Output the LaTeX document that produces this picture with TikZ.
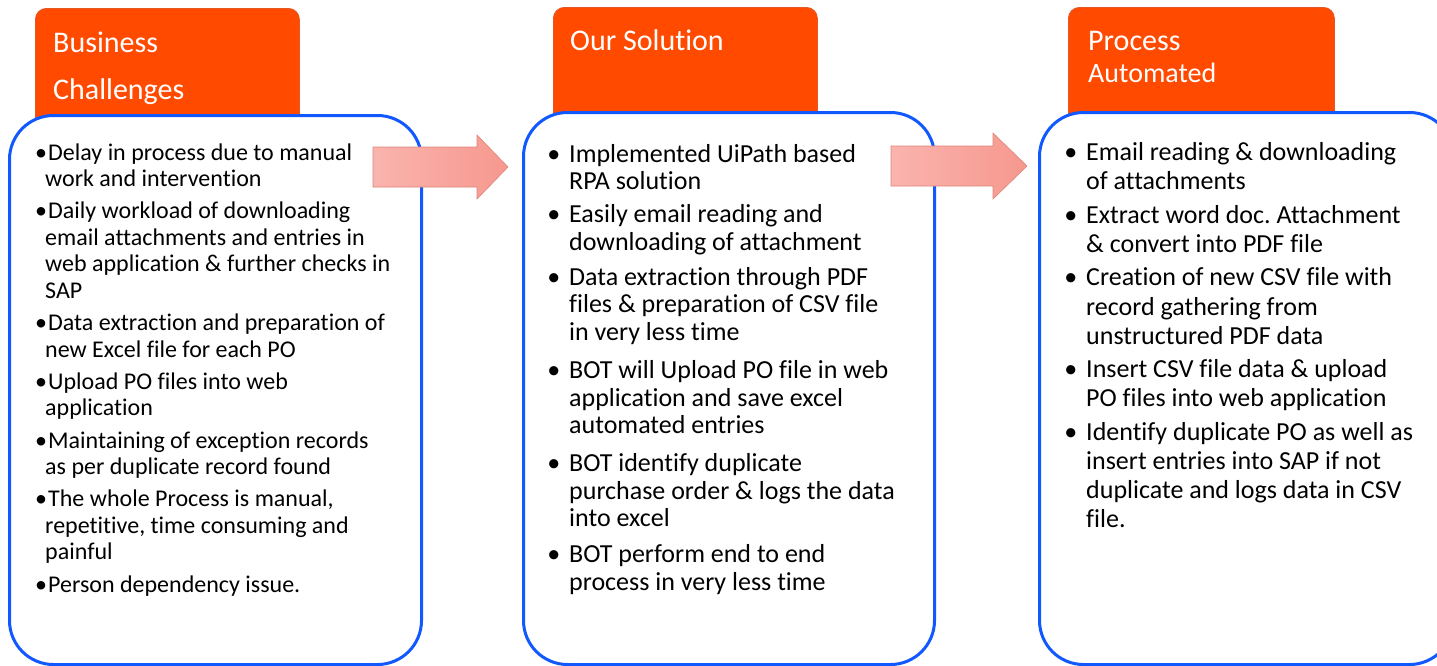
\documentclass[tikz,border=0pt]{standalone}
\usepackage{fontspec}
\setmainfont{Carlito}[Ligatures=NoCommon]
\frenchspacing
\definecolor{tabfill}{RGB}{255,74,0}
\definecolor{tabedge}{RGB}{228,88,40}
\definecolor{boxblue}{RGB}{18,88,255}
\definecolor{arrL}{RGB}{250,180,174}
\definecolor{arrR}{RGB}{246,152,142}
\definecolor{arrEdge}{RGB}{222,132,122}
\newcommand\blt[1]{\leavevmode\llap{\textbullet\hspace{#1}}}
\tikzset{
  tabbox/.style={draw=tabedge, line width=0.8pt, fill=tabfill, rounded corners=11pt,
    anchor=north west, inner sep=0, minimum width=264pt, minimum height=130pt},
  panel/.style={draw=boxblue, line width=3pt, fill=white, rounded corners=44pt,
    anchor=north west, inner sep=0},
  hdr/.style={inner sep=0, anchor=base west, text=white},
  body/.style={inner sep=0, anchor=base west, text=black},
  blockarrow/.style={left color=arrL, right color=arrR, draw=arrEdge, line width=0.6pt},
}
\begin{document}
\begin{tikzpicture}[x=1pt,y=-1pt]
\useasboundingbox (0,0) rectangle (1437,665);
\clip (0,0) rectangle (1437,665);
% tabs
\node[tabbox] (tab1) at (35,8) {};
\node[tabbox] (tab2) at (553,7) {};
\node[tabbox, minimum width=266pt] (tab3) at (1068,7) {};
% panels
\node[panel, minimum width=412pt, minimum height=549pt] (box1) at (8,114) {};
\node[panel, minimum width=411pt, minimum height=552pt] (box2) at (522,111) {};
\node[panel, minimum width=414pt, minimum height=552pt] (box3) at (1038,111) {};
% headers
\node[hdr] (h1) at (53,52) {\vtop{\hsize=240pt\parindent=0pt\fontsize{30}{47}\selectfont Business\\Challenges}};
\node[hdr] (h2) at (570,50) {\fontsize{30}{36}\selectfont Our Solution};
\node[hdr] (h3) at (1088,50) {\vtop{\hsize=240pt\parindent=0pt\fontsize{30}{32}\selectfont Process\\{\fontsize{28}{32}\selectfont Automated}}};
% body texts
\node[body] (t1) at (45,160) {\vtop{\hsize=380pt\parindent=0pt\parskip=0pt\fontsize{24}{26.6}\selectfont
\leavevmode\hspace*{3pt}\llap{\textbullet\hspace{1pt}}Delay in process due to manual\\work and intervention\par\vskip5.5pt
\leavevmode\hspace*{3pt}\llap{\textbullet\hspace{1pt}}Daily workload of downloading\\email attachments and entries in\\web application \& further checks in\\SAP\par\vskip5.5pt
\leavevmode\hspace*{3pt}\llap{\textbullet\hspace{1pt}}Data extraction and preparation of\\new Excel file for each PO\par\vskip5.5pt
\leavevmode\hspace*{3pt}\llap{\textbullet\hspace{1pt}}Upload PO files into web\\application\par\vskip5.5pt
\leavevmode\hspace*{3pt}\llap{\textbullet\hspace{1pt}}Maintaining of exception records\\as per duplicate record found\par\vskip5.5pt
\leavevmode\hspace*{3pt}\llap{\textbullet\hspace{1pt}}The whole Process is manual,\\repetitive, time consuming and\\painful\par\vskip5.5pt
\leavevmode\hspace*{3pt}\llap{\textbullet\hspace{1pt}}Person dependency issue.\par}};
\node[body] (t2) at (569,162) {\vtop{\hsize=380pt\parindent=0pt\parskip=0pt\fontsize{26}{27.5}\selectfont
\blt{9pt}Implemented UiPath based\\RPA solution\par\vskip5.5pt
\blt{9pt}Easily email reading and\\downloading of attachment\par\vskip7.5pt
\blt{9pt}Data extraction through PDF\\files \& preparation of CSV file\\in very less time\par\vskip11pt
\blt{9pt}BOT will Upload PO file in web\\application and save excel\\automated entries\par\vskip10.5pt
\blt{9pt}BOT identify duplicate\\purchase order \& logs the data\\into excel\par\vskip8.5pt
\blt{9pt}BOT perform end to end\\process in very less time\par}};
\node[body] (t3) at (1086,160.5) {\vtop{\hsize=380pt\parindent=0pt\parskip=0pt\fontsize{26}{29.1}\selectfont
\blt{9pt}Email reading \& downloading\\of attachments\par\vskip4.5pt
\blt{9pt}Extract word doc. Attachment\\\& convert into PDF file\par\vskip4.5pt
\blt{9pt}Creation of new CSV file with\\record gathering from\\unstructured PDF data\par\vskip4.5pt
\blt{9pt}Insert CSV file data \& upload\\PO files into web application\par\vskip4.5pt
\blt{9pt}Identify duplicate PO as well as\\insert entries into SAP if not\\duplicate and logs data in CSV\\file.\par}};
% block arrows
\path[blockarrow] (373,147) -- (477,147) -- (477,135) -- (508,167) -- (477,199) -- (477,187) -- (373,187) -- cycle;
\path[blockarrow] (891,146) -- (993,146) -- (993,133) -- (1027,166) -- (993,199) -- (993,186) -- (891,186) -- cycle;
\end{tikzpicture}
\end{document}
